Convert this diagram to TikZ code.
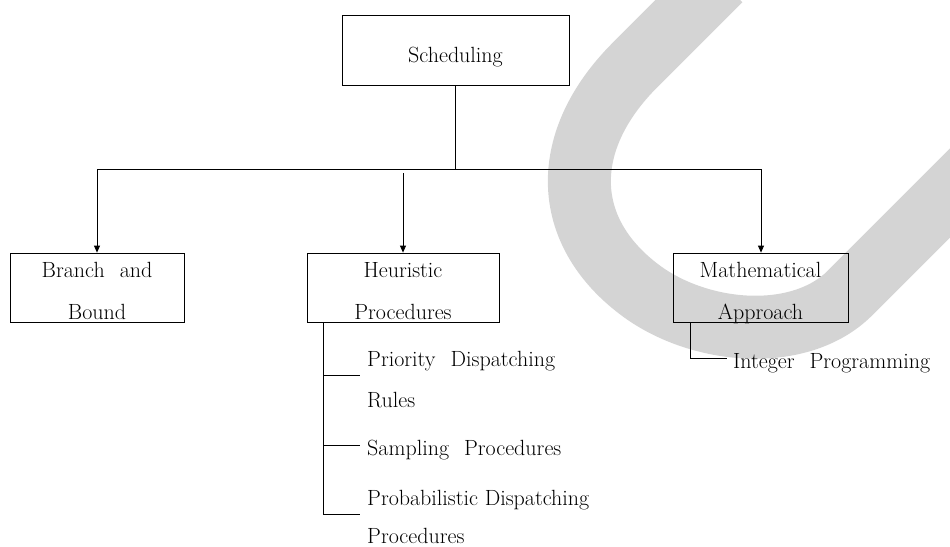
\documentclass[tikz,border=0pt]{standalone}
\usetikzlibrary{arrows.meta}
\definecolor{wm}{RGB}{212,212,212}
\newcommand\wgap{\hspace{15pt}}
\begin{document}
\begin{tikzpicture}[x=1pt,y=-1pt,
  lbl/.style={font=\fontsize{22pt}{42pt}\selectfont},
  box/.style={lbl, draw, line width=0.8pt, inner sep=0pt, align=center},
  twoline/.style={box, text height=63pt, text depth=0pt, minimum height=69pt},
  conn/.style={line width=0.8pt},
  arr/.style={conn, -{Triangle[length=7pt,width=6pt]}},
  item/.style={lbl, anchor=base west, inner sep=0pt}
]
\useasboundingbox (0,0) rectangle (950,546);
% watermark band
\draw[line width=63pt, color=wm] (720,-20) -- (635,65)
  .. controls (560,140) and (560,230) .. (640,290)
  .. controls (700,335) and (800,343) .. (850,293) -- (985,158);

% boxes
\node[box, text height=24pt, text depth=0pt, minimum width=227pt, minimum height=70pt] (sched) at (455.5,50) {Scheduling};
\node[twoline, minimum width=174pt] (branch) at (97,287.5) {Branch\wgap and\\Bound};
\node[twoline, minimum width=192pt] (heur) at (403,287.5) {Heuristic\\Procedures};
\node[twoline, minimum width=175pt] (math) at (760.5,287.5) {Mathematical\\Approach};

% bus
\coordinate (busL) at (97,169);
\coordinate (busC) at (455.5,169);
\coordinate (busR) at (761,169);
\coordinate (midtop) at (403,173);
\draw[conn] (sched.south) -- (busC);
\draw[conn] (busL) -- (busR);
\draw[arr] (busL) -- (branch.north);
\draw[arr] (midtop) -- (heur.north);
\draw[arr] (busR) -- (busR |- math.north);

% heuristic sub-items
\coordinate (hv) at ([xshift=17pt]heur.south west);
\coordinate (hk1) at (360,375);
\coordinate (hk2) at (360,445);
\coordinate (hk3) at (360,514);
\draw[conn] (hv) |- (hk3);
\draw[conn] (hk1 -| hv) -- (hk1);
\draw[conn] (hk2 -| hv) -- (hk2);
\node[item] (pdr1) at (367,366) {Priority\wgap Dispatching};
\node[item] (pdr2) at (367,407) {Rules};
\node[item] (samp) at (367,455) {Sampling\wgap Procedures};
\node[item] (prob1) at (367,505) {Probabilistic Dispatching};
\node[item] (prob2) at (367,543) {Procedures};

% mathematical sub-item
\coordinate (mv) at ([xshift=18pt]math.south west);
\coordinate (mk) at (727,358);
\draw[conn] (mv) |- (mk);
\node[item] (intp) at (733,368) {Integer\wgap Programming};
\end{tikzpicture}
\end{document}
